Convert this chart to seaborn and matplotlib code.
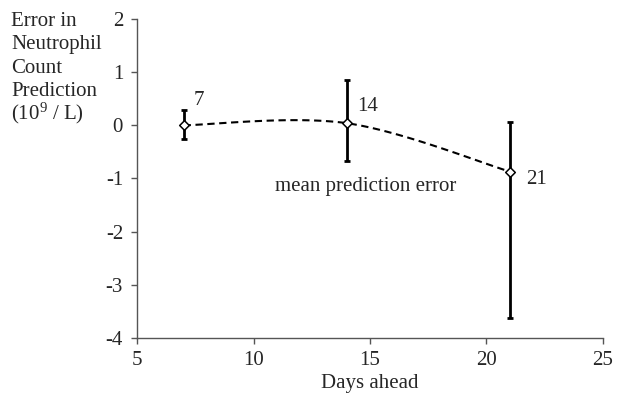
import numpy as np
import pandas as pd
import matplotlib
matplotlib.use("Agg")
import matplotlib.pyplot as plt
import seaborn as sns

# Prediction horizon (days) and mean error with its range
days = [7, 14, 21]
mean_error = [0.0, 0.04, -0.87]
err_upper = [0.29, 0.86, 0.07]
err_lower = [-0.25, -0.68, -3.62]
point_labels = ["7", "14", "21"]

x_ticks = [5, 10, 15, 20, 25]
y_ticks = [-4, -3, -2, -1, 0, 1, 2]

y_title_lines = ["Error in", "Neutrophil", "Count", "Prediction", "(10$^9$ / L)"]


def smooth_curve(xs, ys, n=60):
    """Catmull-Rom style Bezier smoothing through the points."""
    pts = np.column_stack([xs, ys]).astype(float)
    padded = np.vstack([pts[0], pts, pts[-1]])
    out = []
    for i in range(1, len(padded) - 2):
        p0, p1, p2, p3 = padded[i - 1], padded[i], padded[i + 1], padded[i + 2]
        c1 = p1 + (p2 - p0) / 6.0
        c2 = p2 - (p3 - p1) / 6.0
        t = np.linspace(0, 1, n)[:, None]
        seg = ((1 - t) ** 3) * p1 + 3 * ((1 - t) ** 2) * t * c1 \
            + 3 * (1 - t) * t ** 2 * c2 + t ** 3 * p2
        out.append(seg if i == 1 else seg[1:])
    return np.vstack(out)


sns.set_theme(style="ticks")
plt.rcParams["font.family"] = ["Liberation Serif", "DejaVu Serif"]
plt.rcParams["mathtext.fontset"] = "custom"
plt.rcParams["mathtext.rm"] = "Liberation Serif"
plt.rcParams["mathtext.it"] = "Liberation Serif:italic"

FS = 15

fig = plt.figure(figsize=(6.18, 3.94), dpi=100)
ax = fig.add_axes([0.2217, 0.142, 0.754, 0.810])

df = pd.DataFrame({"days": days, "error": mean_error})
curve = smooth_curve(days, mean_error)
curve_df = pd.DataFrame({"days": curve[:, 0], "error": curve[:, 1]})

sns.lineplot(data=curve_df, x="days", y="error", ax=ax, color="black",
             linewidth=1.5, linestyle=(0, (3.5, 2.2)), sort=False)

yerr = np.array([np.array(mean_error) - np.array(err_lower),
                 np.array(err_upper) - np.array(mean_error)])
ax.errorbar(days, mean_error, yerr=yerr, fmt="none", ecolor="black",
            elinewidth=2.0, capsize=2.5, capthick=2.0, zorder=3)

sns.scatterplot(data=df, x="days", y="error", ax=ax, marker="D", s=24,
                facecolor="white", edgecolor="black", linewidth=1.1, zorder=4)

offsets = [(0.45, 0.47), (0.45, 0.32), (0.68, -0.15)]
for x, y, lab, (dx, dy) in zip(days, mean_error, point_labels, offsets):
    ax.text(x + dx, y + dy, lab, fontsize=FS, ha="left", va="center")

ax.text(14.8, -1.15, "mean prediction error", fontsize=FS, ha="center", va="center")

ax.set_xlim(5, 25)
ax.set_ylim(-4, 2)
ax.set_xticks(x_ticks)
ax.set_yticks(y_ticks)
ax.set_xticklabels([str(v) for v in x_ticks])
ax.set_yticklabels([str(v) for v in y_ticks])
ax.tick_params(axis="both", labelsize=FS, length=4, width=1, color="#555555",
               direction="out", pad=5)
ax.tick_params(axis="y", pad=6)
ax.set_xlabel("Days ahead", fontsize=FS, labelpad=3)
ax.set_ylabel("")
for s in ["top", "right"]:
    ax.spines[s].set_visible(False)
for s in ["left", "bottom"]:
    ax.spines[s].set_color("#555555")
    ax.spines[s].set_linewidth(1.0)

# Stacked y-axis title in the upper-left corner
baselines_px = [26, 49.5, 73, 96, 119]
for line, b in zip(y_title_lines, baselines_px):
    fig.text(11 / 618, 1 - b / 394, line, fontsize=FS, ha="left", va="baseline")

fig.savefig("out.png", dpi=100)
